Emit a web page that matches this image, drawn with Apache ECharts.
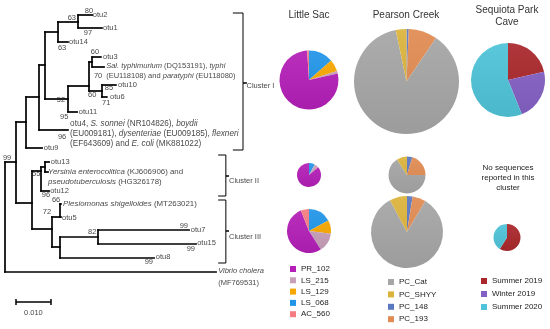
<!DOCTYPE html>
<html><head><meta charset="utf-8">
<script src="https://cdn.jsdelivr.net/npm/echarts@6/dist/echarts.min.js"></script>
<style>html,body{margin:0;padding:0;background:#fff}#c{width:550px;height:329px}</style>
</head><body><div id="c"></div>
<script>
// ---------- Phylogenetic tree: [node, parent, depth (substitutions/site), row]
const treeNodes = [
  ['root', null, 0.0000, 16.2],
  ['n99', 'root', 0.00314, 16.2],
  ['nA', 'n99', 0.0060, 12.2],
  ['nC', 'nA', 0.0097, 9.7],
  ['nD', 'nC', 0.0114, 6.5],
  ['nE', 'nD', 0.0151, 3.2],
  ['nG', 'nE', 0.0209, 2.2],
  ['otu2', 'nG', 0.0249, 1.5],
  ['otu1', 'nG', 0.0277, 2.8],
  ['otu14', 'nE', 0.0180, 4.2],
  ['nF', 'nD', 0.0180, 9.9],
  ['nH', 'nF', 0.0240, 8.6],
  ['nI', 'nH', 0.0249, 6.2],
  ['otu3', 'nI', 0.0274, 5.7],
  ['Sal', 'nI', 0.0283, 6.7],
  ['nJ', 'nH', 0.0277, 9.1],
  ['otu10', 'nJ', 0.0317, 8.5],
  ['otu6', 'nJ', 0.0291, 9.7],
  ['otu11', 'nF', 0.0206, 11.2],
  ['otu4', 'nC', 0.0180, 13.0],
  ['otu9', 'nA', 0.0106, 14.8],
  ['nB', 'n99', 0.0077, 20.3],
  ['nK', 'nB', 0.0103, 17.1],
  ['nM', 'nK', 0.0114, 16.7],
  ['otu13', 'nM', 0.0126, 16.2],
  ['Yers', 'nM', 0.0123, 17.2],
  ['otu12', 'nK', 0.0126, 19.1],
  ['nL', 'nB', 0.0134, 22.9],
  ['nN', 'nL', 0.0157, 21.7],
  ['Plesio', 'nN', 0.0160, 20.4],
  ['otu5', 'nN', 0.0160, 21.7],
  ['nO', 'nL', 0.0157, 24.7],
  ['nP', 'nO', 0.0266, 23.7],
  ['otu7', 'nP', 0.0526, 23.0],
  ['otu15', 'nP', 0.0546, 24.4],
  ['otu8', 'nO', 0.0426, 25.8],
  ['Vibrio', 'root', 0.0603, 27.2]
];
// leaf label lines: [rich text, depth, row]
const leafTexts = [
  ['otu2', 0.0251, 1.5],
  ['otu1', 0.0280, 2.8],
  ['otu14', 0.0183, 4.2],
  ['otu3', 0.0280, 5.7],
  ['{i|Sal. typhimurium} (DQ153191), {i|typhi}', 0.0289, 6.6],
  ['(EU118108) and {i|paratyphi} (EU118080)', 0.0289, 7.6],
  ['otu10', 0.0323, 8.5],
  ['otu6', 0.0300, 9.7],
  ['otu11', 0.0211, 11.2],
  ['otu4, {i|S. sonnei} (NR104826), {i|boydii}', 0.0186, 12.4],
  ['(EU009181), {i|dysenteriae} (EU009185), {i|flexneri}', 0.0186, 13.4],
  ['(EF643609) and {i|E. coli} (MK881022)', 0.0186, 14.4],
  ['otu9', 0.0111, 14.8],
  ['otu13', 0.0131, 16.2],
  ['{i|Yersinia enterocolitica} (KJ606906) and', 0.0123, 17.2],
  ['{i|pseudotuberculosis} (HG326178)', 0.0123, 18.2],
  ['otu12', 0.0129, 19.1],
  ['{i|Plesiomonas shigelloides} (MT263021)', 0.0166, 20.4],
  ['otu5', 0.0163, 21.8],
  ['otu7', 0.0531, 23.0],
  ['otu15', 0.0549, 24.3],
  ['otu8', 0.0431, 25.7],
  ['{i|Vibrio cholera}', 0.0609, 27.1],
  ['(MF769531)', 0.0609, 28.3]
];
const bootstrapValues = [80, 63, 97, 63, 60, 70, 85, 71, 60, 52, 95, 96, 99, 55, 96, 66, 72, 82, 99, 99, 99];
const bootstrapAt = [[0.0240,1.1],[0.0191,1.8],[0.0237,3.3],[0.0163,4.8],[0.0257,5.2],[0.0266,7.6],[0.0297,8.8],
  [0.0289,10.3],[0.0249,9.5],[0.0160,10.0],[0.0169,11.7],[0.0163,13.7],[0.0006,15.8],[0.0089,17.4],[0.0117,19.5],
  [0.0146,20.0],[0.0120,21.2],[0.0249,23.2],[0.0511,22.6],[0.0531,24.9],[0.0411,26.2]];
const clusterNames = ['Cluster I', 'Cluster II', 'Cluster III'];
const clusterRows = [[1.3, 15.0, 8.3], [15.5, 19.6, 17.6], [20.0, 26.3, 23.1]]; // top, bottom, middle
const scaleBarLength = 0.010;
const scaleBarLabel = '0.010';

// ---------- Pie data (clockwise from 12 o'clock)
const lsSlices = ['LS_068', 'LS_129', 'LS_215', 'PR_102', 'AC_560'];
const lsCluster1 = [13.5, 6.5, 1.5, 77.5, 1.0];
const lsCluster2 = [8, 0, 6, 86, 0];
const lsCluster3 = [17, 10, 14, 53, 6];
const pcSlices = ['PC_148', 'PC_193', 'PC_Cat', 'PC_SHYY'];
const pcCluster1 = [0.7, 8.8, 87.2, 3.3];
const pcCluster2 = [4.7, 20.3, 66.0, 9.0];
const pcCluster3 = [2.5, 6.0, 83.7, 7.8];
const spSlices = ['Summer 2019', 'Winter 2019', 'Summer 2020'];
const spCluster1 = [21.4, 22.5, 56.1];
const spCluster3 = [59, 0, 41];
const lsLegend = ['PR_102', 'LS_215', 'LS_129', 'LS_068', 'AC_560'];
const pcLegend = ['PC_Cat', 'PC_SHYY', 'PC_148', 'PC_193'];
const spLegend = ['Summer 2019', 'Winter 2019', 'Summer 2020'];
const siteNames = ['Little Sac', 'Pearson Creek', 'Sequiota Park\nCave'];

const colors = {
  PR_102: '#b41fb7', LS_215: '#c8a0b9', LS_129: '#f7a800', LS_068: '#2196e8', AC_560: '#f47c80',
  PC_Cat: '#a6a6a6', PC_SHYY: '#dbb33b', PC_148: '#5a78c0', PC_193: '#e18b52',
  'Summer 2019': '#a9272b', 'Winter 2019': '#8460c4', 'Summer 2020': '#4fc3d8'
};
const FONT = '"Liberation Sans", Arial, sans-serif';
// text size per leaf-label line (the species descriptions were typeset a little larger)
const leafFontSize = i => (i >= 9 && i <= 11) ? 8.2 : (i === 14 || i === 15 || i === 17) ? 7.9 : 7.5;

// ---------- build tree segments
const byName = {};
treeNodes.forEach(n => byName[n[0]] = {name: n[0], parent: n[1], x: n[2], y: n[3], kids: []});
treeNodes.forEach(n => { if (n[1]) byName[n[1]].kids.push(byName[n[0]]); });
const segs = [];
Object.values(byName).forEach(n => {
  if (n.parent) segs.push({coords: [[byName[n.parent].x, n.y], [n.x, n.y]]});
  if (n.kids.length) {
    const ys = n.kids.map(k => k.y);
    segs.push({coords: [[n.x, Math.min(...ys)], [n.x, Math.max(...ys)]]});
  }
});
// brackets
const bx = [[0.0651, 0.0680, 0.0691], [0.0609, 0.0631, 0.0640], [0.0609, 0.0631, 0.0640]];
const brackets = clusterRows.map((r, i) => ({coords: [
  [bx[i][0], r[0]], [bx[i][1], r[0]], [bx[i][1], r[2]], [bx[i][2], r[2]], [bx[i][1], r[2]], [bx[i][1], r[1]], [bx[i][0], r[1]]
]}));
const clusterLabelAt = [[0.0690, 8.6], [0.0640, 18.1], [0.0640, 23.7]];

function shade(hex, f) {
  const n = parseInt(hex.slice(1), 16);
  let r = n >> 16, g = (n >> 8) & 255, b = n & 255;
  const m = c => Math.max(0, Math.min(255, Math.round(f > 0 ? c + (255 - c) * f : c * (1 + f))));
  return 'rgb(' + m(r) + ',' + m(g) + ',' + m(b) + ')';
}
function pie(names, values, center, r) {
  return {
    type: 'pie', center: center, radius: r, startAngle: 90, clockwise: true, silent: true,
    label: {show: false}, labelLine: {show: false}, emphasis: {disabled: true},
    itemStyle: {borderWidth: 0},
    data: names.map((n, i) => ({name: n, value: values[i], itemStyle: {
      color: new echarts.graphic.LinearGradient(0, center[1] - r, 0, center[1] + r,
        [{offset: 0, color: shade(colors[n], 0.07)}, {offset: 1, color: shade(colors[n], -0.06)}], true)
    }}))
  };
}
function legend(names, left, top, gap) {
  return {
    data: names.map(n => ({name: n, itemStyle: {color: colors[n]}})), orient: 'vertical', left: left, top: top, padding: 0, icon: 'rect',
    itemWidth: 6, itemHeight: 6, itemGap: gap, selectedMode: false,
    textStyle: {fontSize: 8, lineHeight: 10, color: '#222', fontFamily: FONT}
  };
}

const chart = echarts.init(document.getElementById('c'), null, {renderer: 'canvas'});
chart.setOption({
  animation: false,
  backgroundColor: '#fff',
  grid: {left: 5, top: 0, width: 350, height: 329},
  xAxis: {type: 'value', min: 0, max: 0.1, show: false},
  yAxis: {type: 'value', min: 0, max: 32.9, inverse: true, show: false},
  legend: [legend(lsLegend, 290, 264, 1.3), legend(pcLegend, 388, 277, 2.4), legend(spLegend, 481, 276, 3)],
  graphic: [
    {type: 'text', x: 309, y: 15, style: {text: siteNames[0], font: '10px ' + FONT, fill: '#333', align: 'center', verticalAlign: 'middle'}},
    {type: 'text', x: 406, y: 15, style: {text: siteNames[1], font: '10px ' + FONT, fill: '#333', align: 'center', verticalAlign: 'middle'}},
    {type: 'text', x: 507, y: 16, style: {text: siteNames[2], font: '10px ' + FONT, lineHeight: 12, fill: '#333', align: 'center', verticalAlign: 'middle'}},
    {type: 'text', x: 508, y: 178, style: {text: 'No sequences\nreported in this\ncluster', font: '8px ' + FONT, lineHeight: 10, fill: '#222', align: 'center', verticalAlign: 'middle'}}
  ],
  series: [
    {type: 'lines', coordinateSystem: 'cartesian2d', silent: true, data: segs,
      lineStyle: {color: '#000', width: 1.7, opacity: 1, cap: 'square'}},
    {type: 'lines', coordinateSystem: 'cartesian2d', polyline: true, silent: true, data: brackets,
      lineStyle: {color: '#000', width: 1, opacity: 1}},
    {type: 'lines', coordinateSystem: 'cartesian2d', silent: true,
      data: [{coords: [[0.0031, 30.2], [0.0031 + scaleBarLength, 30.2]]}, {coords: [[0.0031, 29.9], [0.0031, 30.5]]}, {coords: [[0.0031 + scaleBarLength, 29.9], [0.0031 + scaleBarLength, 30.5]]}],
      lineStyle: {color: '#000', width: 1.5, opacity: 1}},
    {type: 'scatter', silent: true, symbolSize: 0,
      data: leafTexts.map((t, i) => {
        const fs = leafFontSize(i);
        return {value: [t[1], t[2]], txt: t[0],
          label: {fontSize: fs, rich: {i: {fontStyle: 'italic', fontSize: fs, fontFamily: FONT, color: '#111'}}}};
      }),
      label: {show: true, position: 'right', distance: 0, color: '#111', fontSize: 7.5, fontFamily: FONT,
        formatter: p => p.data.txt, rich: {i: {fontStyle: 'italic', fontSize: 7.5, fontFamily: FONT, color: '#111'}}}},
    {type: 'scatter', silent: true, symbolSize: 0,
      data: bootstrapValues.map((v, i) => ({value: bootstrapAt[i], txt: String(v)}))
        .concat([{value: [0.0031 + scaleBarLength / 2, 31.3], txt: scaleBarLabel}]),
      label: {show: true, position: 'inside', color: '#111', fontSize: 7.5, fontFamily: FONT, formatter: p => p.data.txt}},
    {type: 'scatter', silent: true, symbolSize: 0,
      data: clusterNames.map((c, i) => ({value: clusterLabelAt[i], txt: c})),
      label: {show: true, position: 'right', distance: 0, color: '#111', fontSize: 7.5, fontFamily: FONT, formatter: p => p.data.txt}},
    pie(lsSlices, lsCluster1, [309, 80], 29.5),
    pie(lsSlices, lsCluster2, [309, 175], 12),
    pie(lsSlices, lsCluster3, [309, 231], 22),
    pie(pcSlices, pcCluster1, [406.5, 81.5], 52.5),
    pie(pcSlices, pcCluster2, [407, 175], 18.5),
    pie(pcSlices, pcCluster3, [407, 232], 36),
    pie(spSlices, spCluster1, [508, 80], 37),
    pie(spSlices, spCluster3, [507, 237.5], 13.5)
  ]
});
</script></body></html>
